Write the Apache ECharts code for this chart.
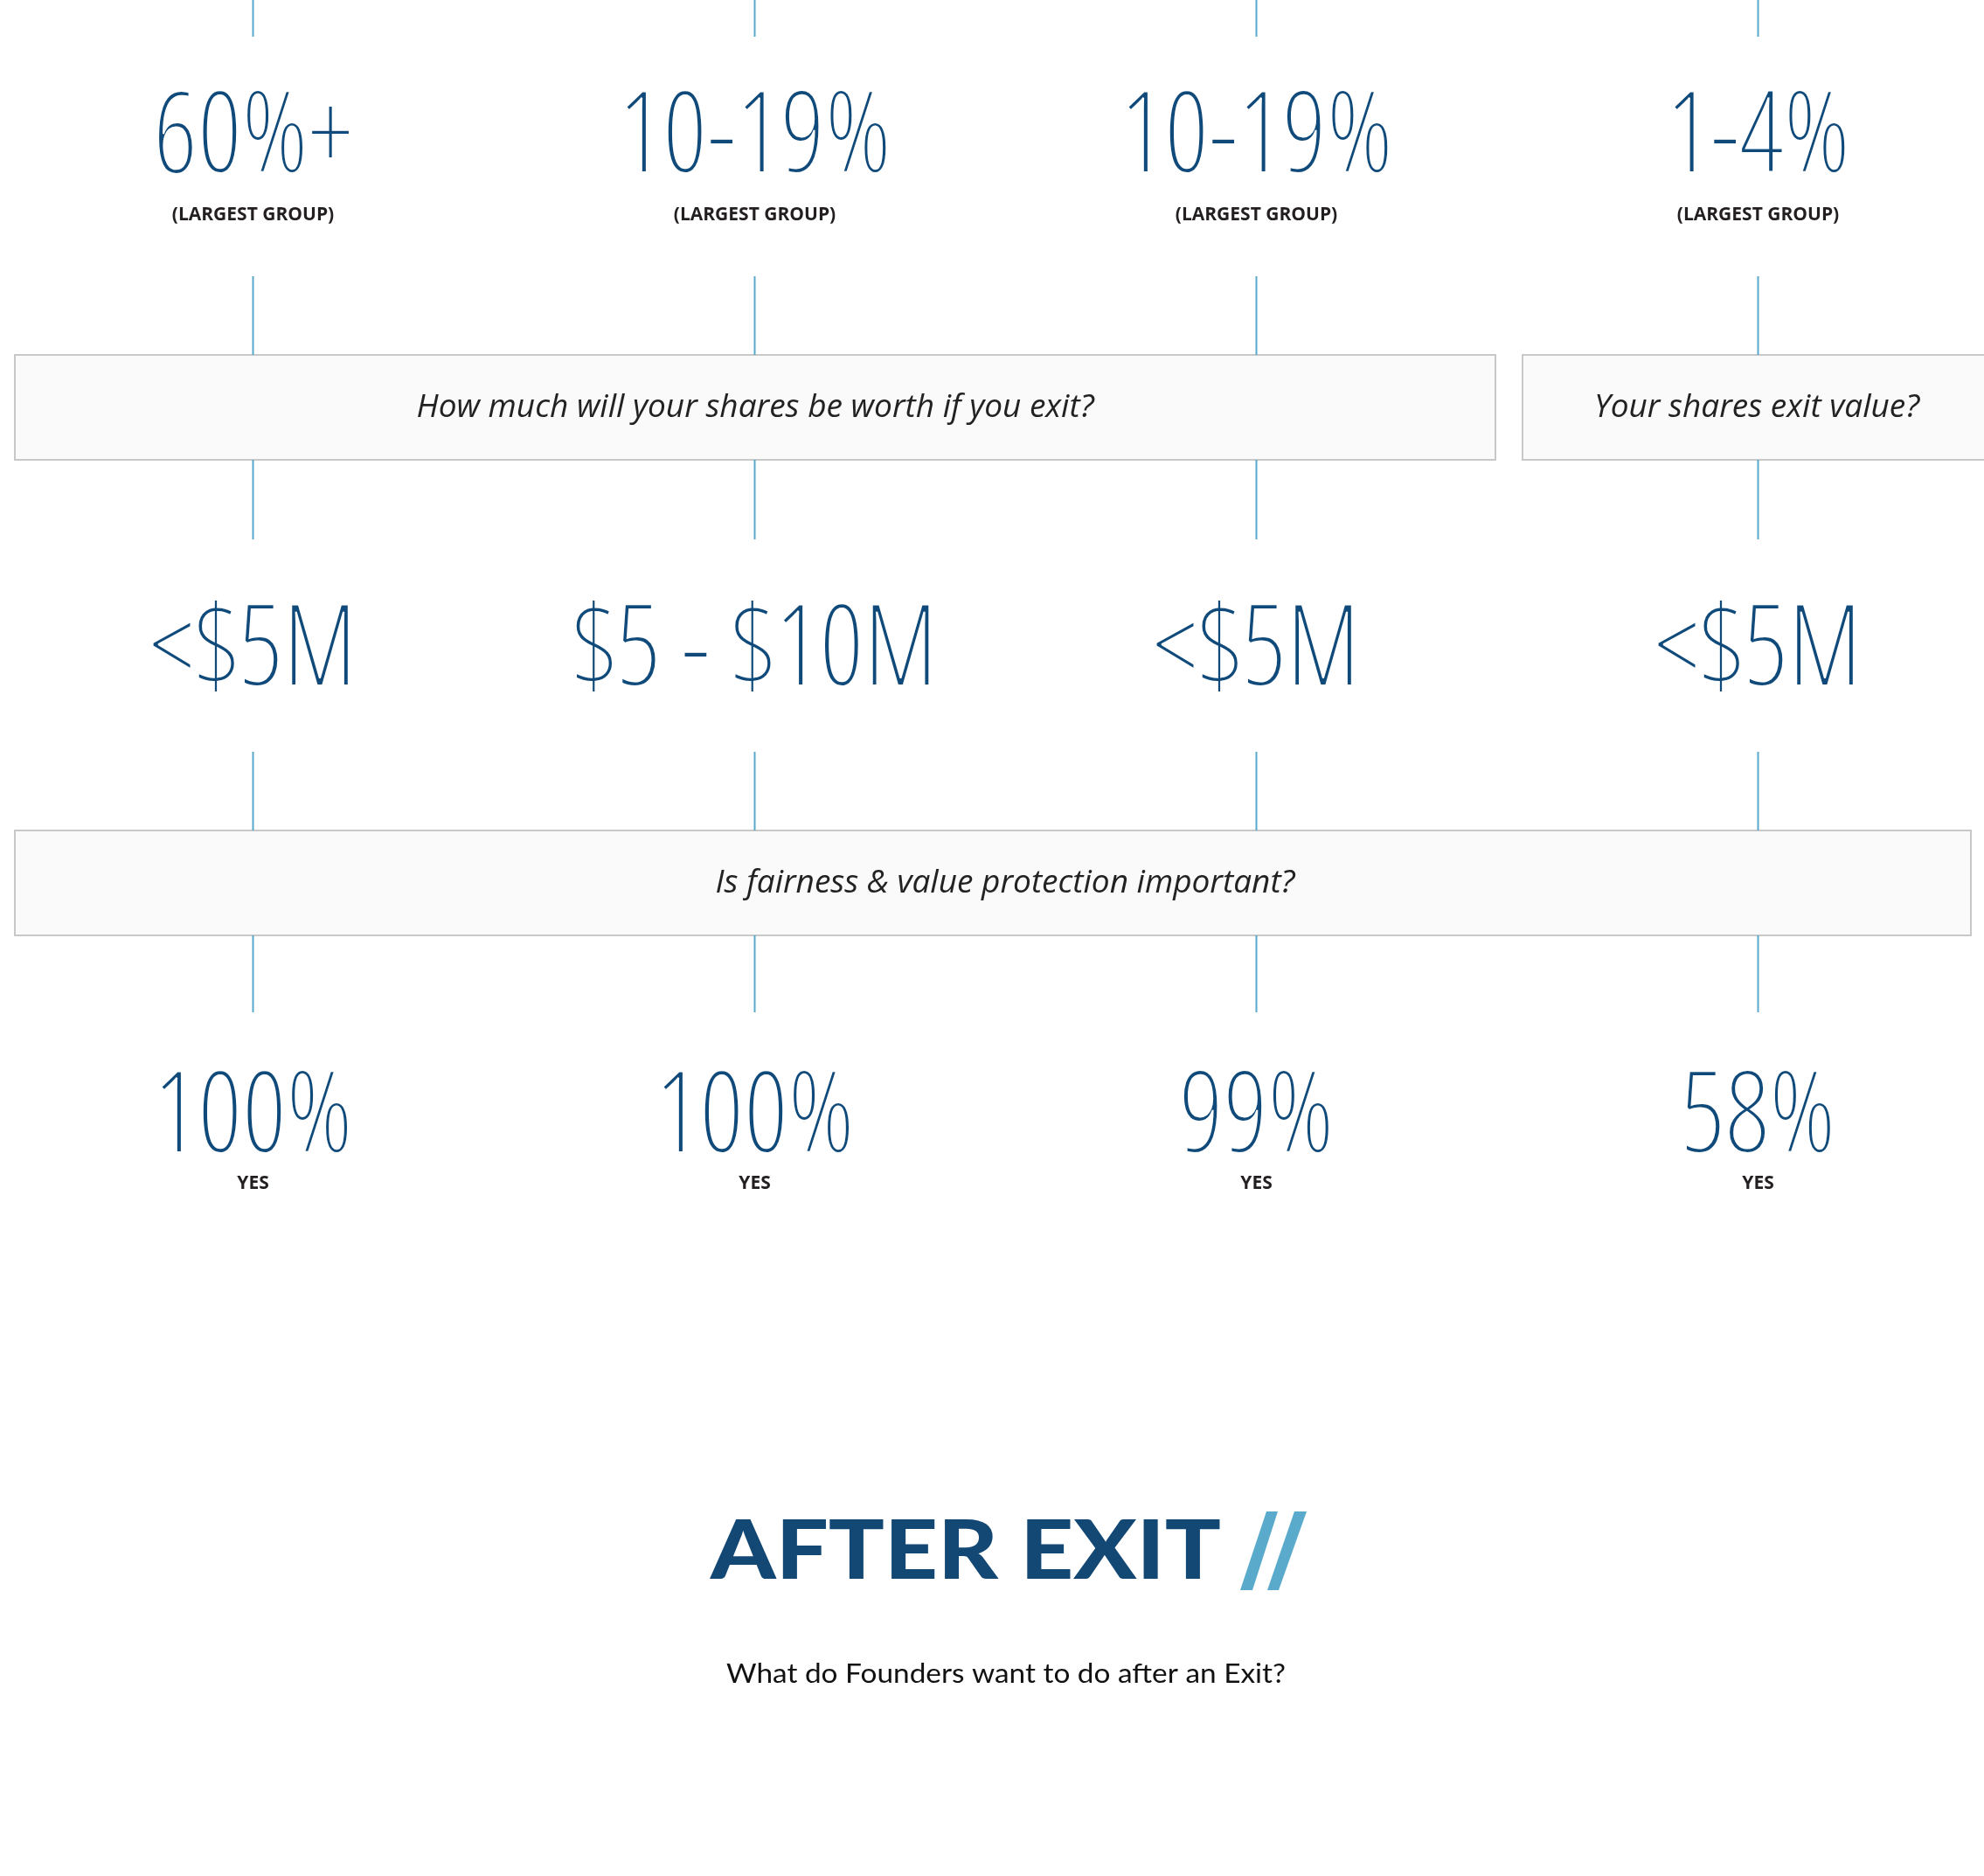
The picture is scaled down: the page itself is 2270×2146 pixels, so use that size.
<!DOCTYPE html>
<html><head><meta charset="utf-8">
<script src="https://cdn.jsdelivr.net/npm/echarts@6/dist/echarts.min.js"></script>
<style>html,body{margin:0;padding:0;background:#fff}#chart{width:2270px;height:2146px}</style>
</head><body><div id="chart"></div>
<script>
// ---------- data ----------
const columnIndex = [0, 1, 2, 3];
const ownershipLargestGroup = ['60%+', '10-19%', '10-19%', '1-4%'];
const ownershipNote = '(LARGEST GROUP)';
const exitValueShares = ['<$5M', '$5 - $10M', '<$5M', '<$5M'];
const fairnessImportantYes = ['100%', '100%', '99%', '58%'];
const fairnessNote = 'YES';
const questionExitWorth = 'How much will your shares be worth if you exit?';
const questionExitValue = 'Your shares exit value?';
const questionFairness = 'Is fairness & value protection important?';
const sectionTitle = 'AFTER EXIT';
const sectionSubtitle = 'What do Founders want to do after an Exit?';

// ---------- layout / style ----------
const W = 2270, H = 2146;
const NAVY = '#0f4a7a', LINE = '#5aa8cb', INK = '#231f20';
const ROW = { own: 150, ownNote: 246, value: 737, yes: 1271, yesNote: 1354 };
const SEGMENTS = [[0, 42], [316, 406], [526, 617], [860, 950], [1070, 1158]];

const mctx = document.createElement('canvas').getContext('2d');
function measure(font, text) { mctx.font = font; return mctx.measureText(text).width; }

const BIG_PLAIN = "300 130px 'Open Sans'";
const BIG_COND = "300 condensed 130px 'Open Sans'";
const wPlain = measure(BIG_PLAIN, '10-19%');
const wCond = measure(BIG_COND, '10-19%');
const BIG_FONT = (wCond < wPlain * 0.92) ? BIG_COND : BIG_PLAIN;
const BIG_SCALE = 312 / measure(BIG_FONT, '10-19%');
const BIG_DY = 10;
const THIN = 2;   // white outline drawn over the glyphs to make them thinner
const NOTE_FONT = "bold 21px 'Open Sans'";
const Q_FONT = "italic 37px 'Open Sans'";

const TITLE_FONT = "900 93px Lato";
const TITLE_SCALE = 584 / measure(TITLE_FONT, sectionTitle);
const SUB_FONT = "400 31px Lato";
const SUB_SCALE = 640 / measure(SUB_FONT, sectionSubtitle);

function rowSeries(name, labels, yMain, note, yNote) {
  return {
    type: 'custom', name, coordinateSystem: 'cartesian2d', clip: false, z: 5,
    data: columnIndex.map(c => [c, yMain]),
    renderItem(params, api) {
      const i = params.dataIndex;
      const p = api.coord([api.value(0), api.value(1)]);
      const base = { type: 'text', x: p[0], y: p[1] + BIG_DY, scaleX: BIG_SCALE };
      const children = [
        Object.assign({}, base, { style: { text: labels[i], font: BIG_FONT, fill: NAVY,
                                           align: 'center', verticalAlign: 'middle' } }),
        Object.assign({}, base, { style: { text: labels[i], font: BIG_FONT, fill: 'rgba(0,0,0,0)',
                                           stroke: '#ffffff', lineWidth: THIN,
                                           align: 'center', verticalAlign: 'middle' } })
      ];
      if (note) {
        const q = api.coord([api.value(0), yNote]);
        children.push({
          type: 'text', x: q[0], y: q[1],
          style: { text: note, font: NOTE_FONT, fill: INK, align: 'center', verticalAlign: 'middle' }
        });
      }
      return { type: 'group', children };
    }
  };
}

const connectorSeries = {
  type: 'custom', name: 'connectors', coordinateSystem: 'cartesian2d', clip: false, z: 3,
  data: columnIndex.map(c => [c, 0]),
  renderItem(params, api) {
    const c = api.value(0);
    return {
      type: 'group',
      children: SEGMENTS.map(s => {
        const a = api.coord([c, s[0]]), b = api.coord([c, s[1]]);
        return { type: 'line', shape: { x1: a[0], y1: a[1], x2: b[0], y2: b[1] },
                 style: { stroke: LINE, lineWidth: 2 } };
      })
    };
  }
};

function box(x, y, w, h) {
  return { type: 'rect', shape: { x, y, width: w, height: h }, z: 1,
           style: { fill: '#fafafa', stroke: '#c8c8c8', lineWidth: 2 } };
}
function qtext(text, x, y) {
  return { type: 'text', x, y, z: 2,
           style: { text, font: Q_FONT, fill: '#222222', align: 'center', verticalAlign: 'middle' } };
}

const chart = echarts.init(document.getElementById('chart'), null, { renderer: 'canvas' });
chart.setOption({
  backgroundColor: '#ffffff',
  animation: false,
  grid: { left: 289.5, right: 258.5, top: 0, bottom: 0 },
  xAxis: { type: 'value', min: 0, max: 3, show: false },
  yAxis: { type: 'value', min: 0, max: H, inverse: true, show: false },
  graphic: [
    box(17, 406, 1694, 120),
    box(1742, 406, 600, 120),
    box(17, 950, 2238, 120),
    qtext(questionExitWorth, 864, 466),
    qtext(questionExitValue, 2010, 466),
    qtext(questionFairness, 1150, 1010),
    { type: 'text', x: 1105, y: 1776, scaleX: TITLE_SCALE, z: 2,
      style: { text: sectionTitle, font: TITLE_FONT, fill: '#134874', align: 'center', verticalAlign: 'middle' } },
    { type: 'polygon', z: 2, shape: { points: [[1419, 1819], [1433, 1819], [1462, 1729], [1449, 1729]] }, style: { fill: '#5aabcb' } },
    { type: 'polygon', z: 2, shape: { points: [[1450, 1819], [1463, 1819], [1495, 1729], [1481, 1729]] }, style: { fill: '#5aabcb' } },
    { type: 'text', x: 1151, y: 1915, scaleX: SUB_SCALE, z: 2,
      style: { text: sectionSubtitle, font: SUB_FONT, fill: '#111111', align: 'center', verticalAlign: 'middle' } }
  ],
  series: [
    connectorSeries,
    rowSeries('Ownership (largest group)', ownershipLargestGroup, ROW.own, ownershipNote, ROW.ownNote),
    rowSeries('Exit value of shares', exitValueShares, ROW.value, null, 0),
    rowSeries('Fairness & value protection important (yes)', fairnessImportantYes, ROW.yes, fairnessNote, ROW.yesNote)
  ]
});
</script>
</body></html>
